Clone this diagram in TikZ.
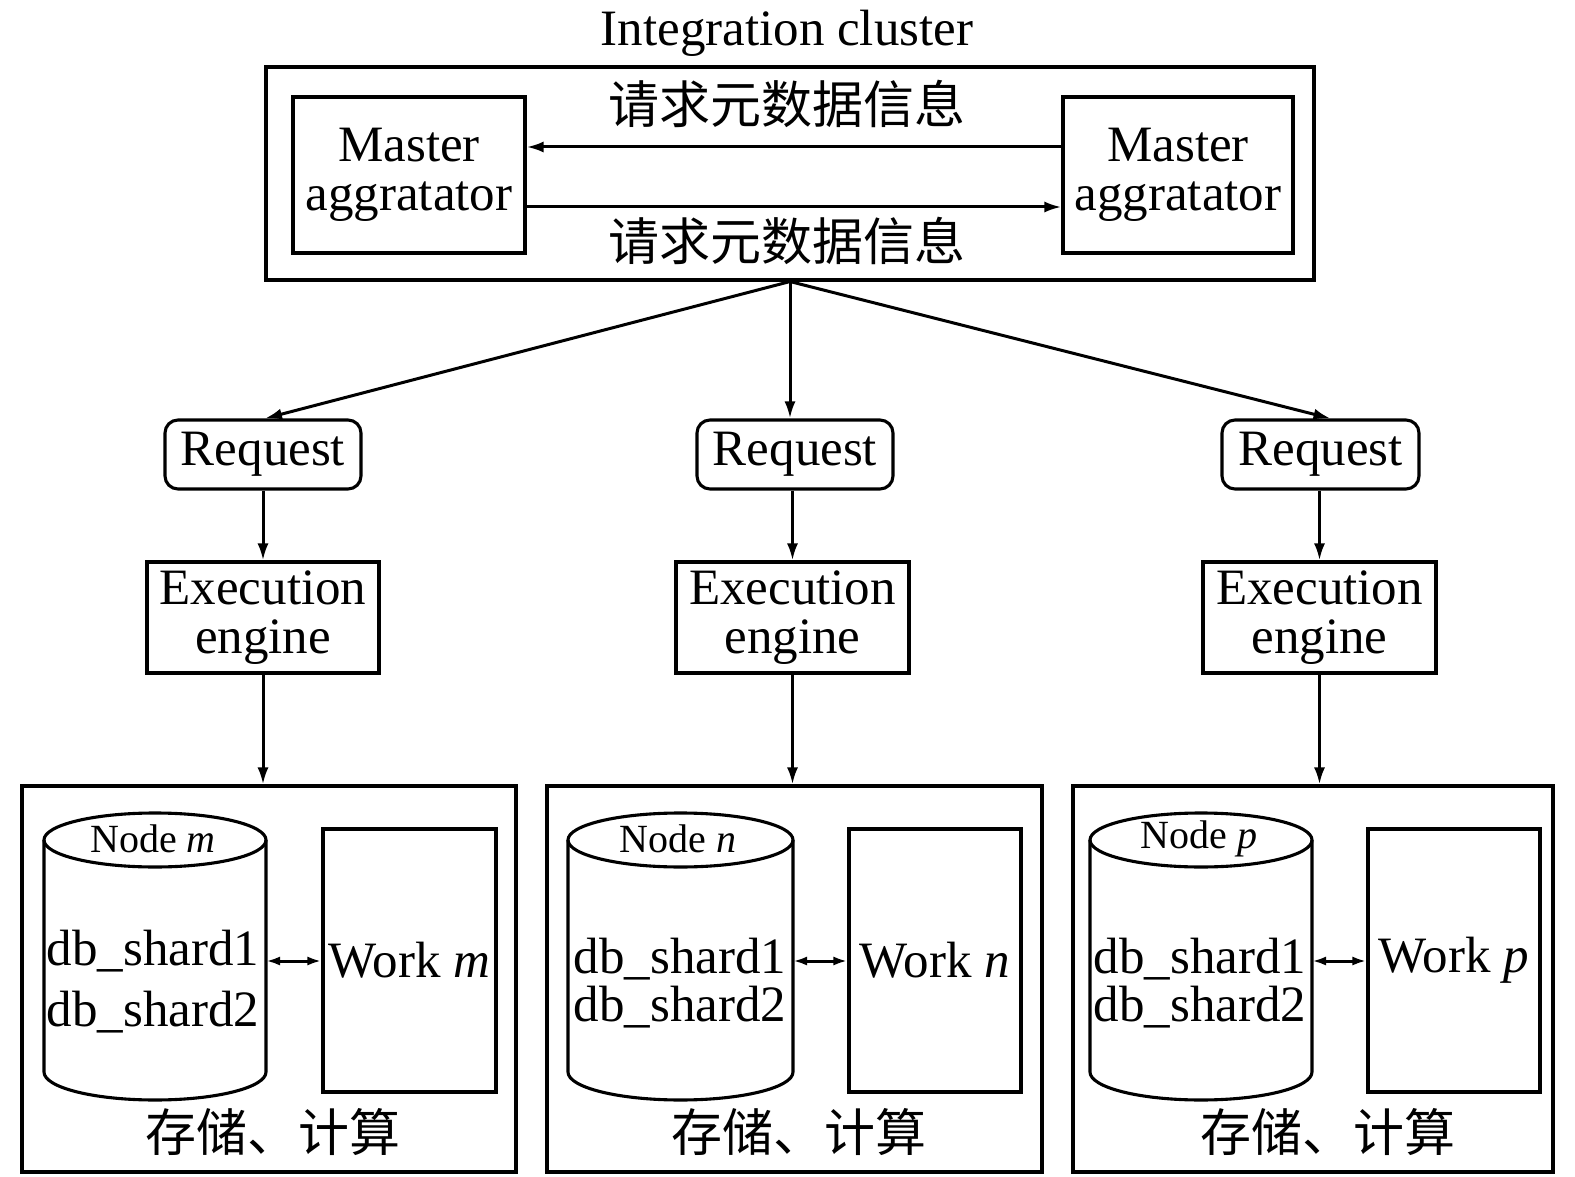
\documentclass[tikz,border=0pt]{standalone}
\usepackage{fontspec}
\setmainfont{Liberation Serif}
\newfontfamily\cjk{Noto Sans CJK SC}
\usetikzlibrary{arrows.meta}
\begin{document}
\begin{tikzpicture}[x=1pt,y=-1pt,
  box/.style={draw, line width=3.1pt, inner sep=0pt, align=center, font=\fontsize{51}{49}\selectfont},
  rbox/.style={box, rounded corners=13pt},
  txt/.style={inner sep=0pt, align=center, font=\fontsize{51}{49}\selectfont},
  ctxt/.style={inner sep=0pt, font=\fontsize{51}{51}\cjk},
  small/.style={inner sep=0pt, font=\fontsize{40}{40}\selectfont},
  arr/.style={line width=3pt, -{Latex[length=17pt,width=11pt]}},
  darr/.style={line width=3pt, {Latex[length=14pt,width=9pt]}-{Latex[length=14pt,width=9pt]}},
  cyl/.style={line width=3.1pt}]
\useasboundingbox (0,0) rectangle (1575,1177);

% title and cluster
\node[txt] (title) at (787,33) {Integration cluster};
\node[box, minimum width=1048pt, minimum height=213pt] (cluster) at (790,173.5) {};
\node[box, minimum width=232pt, minimum height=156pt] (ma1) at (409,175) {Master\\aggratator};
\node[box, minimum width=230pt, minimum height=156pt] (ma2) at (1178,175) {Master\\aggratator};
\node[ctxt] (lab1) at (787,104) {请求元数据信息};
\node[ctxt] (lab2) at (787,241) {请求元数据信息};
\draw[arr] ([yshift=28pt]ma2.west) -- ([yshift=28pt]ma1.east);
\draw[arr] ([yshift=-32pt]ma1.east) -- ([yshift=-32pt]ma2.west);

% requests
\node[rbox, minimum width=196pt, minimum height=69pt] (req1) at (263,454.5) {Request};
\node[rbox, minimum width=196pt, minimum height=69pt] (req2) at (795,454.5) {Request};
\node[rbox, minimum width=197pt, minimum height=69pt] (req3) at (1320.5,454.5) {Request};
\draw[arr] (cluster.south) -- ([xshift=2pt]req1.north);
\draw[arr] (cluster.south) -- (cluster.south |- req2.north);
\draw[arr] (cluster.south) -- ([xshift=10pt]req3.north);

% execution engines
\node[box, minimum width=232pt, minimum height=111pt] (ex1) at (263,617.5) {Execution\\engine};
\node[box, minimum width=233pt, minimum height=111pt] (ex2) at (792.5,617.5) {Execution\\engine};
\node[box, minimum width=233pt, minimum height=111pt] (ex3) at (1319.5,617.5) {Execution\\engine};
\draw[arr] (req1.south) -- (req1.south |- ex1.north);
\draw[arr] (req2.south -| ex2.north) -- (ex2.north);
\draw[arr] (req3.south -| ex3.north) -- (ex3.north);

% bottom boxes
\node[box, minimum width=494pt, minimum height=386pt] (bx1) at (269,979) {};
\node[box, minimum width=495pt, minimum height=386pt] (bx2) at (794.5,979) {};
\node[box, minimum width=480pt, minimum height=386pt] (bx3) at (1313,979) {};
\draw[arr] (ex1.south) -- (ex1.south |- bx1.north);
\draw[arr] (ex2.south) -- (ex2.south |- bx2.north);
\draw[arr] (ex3.south) -- (ex3.south |- bx3.north);

% cylinders
\foreach \cx/\rx in {155/111, 680.5/112.5, 1201/111}{
  \draw[cyl] (\cx,840) ellipse [x radius=\rx, y radius=27];
  \draw[cyl] (\cx-\rx,840) -- (\cx-\rx,1072)
     arc[start angle=180, end angle=0, x radius=\rx, y radius=28] -- (\cx+\rx,840);
}
\node[small] (nm) at (153,839) {Node \textit{m}};
\node[small] (nn) at (678,839) {Node \textit{n}};
\node[small] (np) at (1199,839) {Node \textit{p}};
\node[txt] (d11) at (153,951) {db\_shard1};
\node[txt] (d12) at (153,1012) {db\_shard2};
\node[txt] (d21) at (680,959) {db\_shard1};
\node[txt] (d22) at (680,1007) {db\_shard2};
\node[txt] (d31) at (1200,959) {db\_shard1};
\node[txt] (d32) at (1200,1007) {db\_shard2};
\coordinate (c1) at (266,961);
\coordinate (c2) at (793,961);
\coordinate (c3) at (1312,961);

% work boxes
\node[box, minimum width=173pt, minimum height=263pt] (w1) at (409.5,960.5) {Work \textit{m}};
\node[box, minimum width=172pt, minimum height=263pt] (w2) at (935,960.5) {Work \textit{n}};
\node[box, minimum width=172pt, minimum height=263pt] (w3) at (1454,960.5) {Work \textit{p}};
\draw[darr] (c1) -- (w1.west |- c1);
\draw[darr] (c2) -- (w2.west |- c2);
\draw[darr] (c3) -- (w3.west |- c3);

% bottom labels
\node[ctxt] (s1) at (273,1132) {存储、计算};
\node[ctxt] (s2) at (799,1132) {存储、计算};
\node[ctxt] (s3) at (1328,1132) {存储、计算};
\end{tikzpicture}
\end{document}
